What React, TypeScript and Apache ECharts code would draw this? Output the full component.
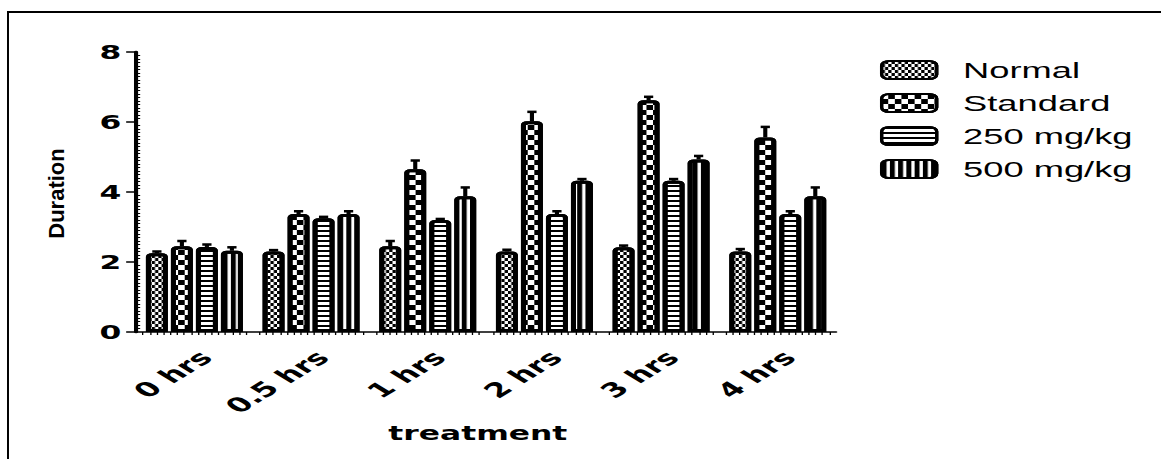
import React, { useEffect, useRef } from 'react';
import * as echarts from 'echarts';

// ---- data ----
const categories = ['0 hrs', '0.5 hrs', '1 hrs', '2 hrs', '3 hrs', '4 hrs'];
const seriesNames = ['Normal', 'Standard', '250 mg/kg', '500 mg/kg'];
const normal = [2.25, 2.3, 2.45, 2.3, 2.42, 2.3];
const normalErr = [0.05, 0.04, 0.15, 0.05, 0.05, 0.07];
const standard = [2.45, 3.37, 4.65, 6.02, 6.62, 5.56];
const standardErr = [0.15, 0.08, 0.25, 0.27, 0.1, 0.3];
const mg250 = [2.43, 3.25, 3.2, 3.37, 4.32, 3.37];
const mg250Err = [0.07, 0.04, 0.03, 0.08, 0.05, 0.08];
const mg500 = [2.32, 3.37, 3.88, 4.32, 4.93, 3.88];
const mg500Err = [0.1, 0.08, 0.25, 0.05, 0.1, 0.25];
const yTicks = [0, 2, 4, 6, 8];

// ---- layout ----
const INNER_W = 704;
const STRETCH = 1161 / INNER_W;
const BAR_W = 13.3;
const BAR_GAP = 0.14;
const GAP_PX = BAR_W * BAR_GAP;
const GROUP_W = 4 * BAR_W + 3 * GAP_PX;
const offsets = [0, 1, 2, 3].map((i) => -GROUP_W / 2 + BAR_W / 2 + i * (BAR_W + GAP_PX));

const decals: any[] = [
  { symbol: 'rect', symbolSize: 1, color: '#000', dashArrayX: [[2, 2], [0, 2, 2, 0]], dashArrayY: [3, 0], rotation: 0 },
  { symbol: 'rect', symbolSize: 1, color: '#000', dashArrayX: [[4, 4], [0, 4, 4, 0]], dashArrayY: [5, 0], rotation: 0 },
  { symbol: 'rect', symbolSize: 1, color: '#000', dashArrayX: [1, 0], dashArrayY: [2, 3], rotation: 0 },
  { symbol: 'rect', symbolSize: 1, color: '#000', dashArrayX: [3, 2], dashArrayY: [1, 0], rotation: 0 },
];

const values = [normal, standard, mg250, mg500];
const errors = [normalErr, standardErr, mg250Err, mg500Err];

const barSeries = seriesNames.map((name, i) => ({
  type: 'bar',
  name,
  xAxisIndex: 0,
  yAxisIndex: 0,
  data: values[i],
  barWidth: BAR_W,
  barGap: `${BAR_GAP * 100}%`,
  itemStyle: {
    color: '#fff',
    borderColor: '#000',
    borderWidth: 3,
    borderRadius: [2, 2, 0, 0],
    decal: decals[i],
  },
  emphasis: { disabled: true },
  z: 2,
}));

const errSeries = seriesNames.map((name, idx) => ({
  type: 'custom',
  name: 'err-' + name,
  xAxisIndex: 0,
  yAxisIndex: 0,
  silent: true,
  z: 1,
  data: values[idx].map((v, i) => [i, v, errors[idx][i]]),
  encode: { x: 0, y: 1 },
  renderItem: (params: any, api: any) => {
    const ci = api.value(0);
    const v = api.value(1);
    const e = api.value(2);
    const p0 = api.coord([ci, v]);
    const p1 = api.coord([ci, v + e]);
    const x = p0[0] + offsets[idx];
    return {
      type: 'group',
      children: [
        { type: 'line', shape: { x1: x, y1: p0[1], x2: x, y2: p1[1] }, style: { stroke: '#000', lineWidth: 2.5 } },
        { type: 'line', shape: { x1: x - 2.8, y1: p1[1], x2: x + 2.8, y2: p1[1] }, style: { stroke: '#000', lineWidth: 2.5 } },
      ],
    };
  },
}));

const option: any = {
  animation: false,
  backgroundColor: '#fff',
  textStyle: { fontFamily: 'Liberation Sans, Arial, sans-serif', color: '#000' },
  grid: { left: 82.5, right: 197, top: 52, bottom: 127, containLabel: false },
  legend: {
    data: seriesNames,
    orient: 'vertical',
    left: 533.6,
    top: 59,
    padding: 0,
    itemWidth: 33.4,
    itemHeight: 18,
    itemGap: 11,
    selectedMode: false,
    icon: 'roundRect',
    textStyle: { fontSize: 22, color: '#000', fontFamily: 'Liberation Sans, Arial, sans-serif', padding: [0, 0, 0, 11] },
  },
  xAxis: [
    {
      type: 'category',
      data: categories,
      position: 'bottom',
      axisLine: { onZero: false, lineStyle: { color: '#000', width: 1.5 } },
      axisTick: { alignWithLabel: true, length: 6, lineStyle: { color: '#000', width: 2.5 } },
      axisLabel: {
        rotate: 45,
        margin: 15,
        fontSize: 20,
        fontWeight: 'bold',
        fontFamily: 'DejaVu Sans, sans-serif',
        color: '#000',
        interval: 0,
        verticalAlign: 'top',
      },
      name: 'treatment',
      nameLocation: 'middle',
      nameGap: 90,
      nameTextStyle: {
        fontSize: 19,
        fontWeight: 'bold',
        fontFamily: 'DejaVu Sans, sans-serif',
        color: '#000',
        padding: [0, 10, 0, 0],
      },
    },
    {
      type: 'value',
      min: 0,
      max: 6,
      interval: 1,
      position: 'bottom',
      axisLine: { show: false, onZero: false },
      axisTick: { show: false },
      axisLabel: { show: false },
      splitLine: { show: false },
      minorTick: { show: true, splitNumber: 17, length: 3, lineStyle: { color: '#000', width: 0.8 } },
      minorSplitLine: { show: false },
    },
  ],
  yAxis: [
    {
      type: 'value',
      min: yTicks[0],
      max: yTicks[yTicks.length - 1],
      interval: 2,
      position: 'left',
      axisLine: { show: true, lineStyle: { color: '#000', width: 2.5 } },
      axisTick: { show: true, length: 6, lineStyle: { color: '#000', width: 1.5 } },
      axisLabel: { margin: 9, fontSize: 19, fontWeight: 'bold', fontFamily: 'DejaVu Sans, sans-serif', color: '#000' },
      splitLine: { show: false },
    },
    {
      type: 'value',
      min: yTicks[0],
      max: yTicks[yTicks.length - 1],
      interval: 2,
      position: 'left',
      axisLine: { show: false },
      axisTick: { show: false, inside: true },
      axisLabel: { show: false },
      splitLine: { show: false },
      minorTick: { show: true, splitNumber: 20, length: 2.5, lineStyle: { color: '#000', width: 1 } },
      minorSplitLine: { show: false },
    },
  ],
  graphic: [
    { type: 'line', silent: true, shape: { x1: 4.85, y1: 11, x2: 4.85, y2: 470 }, style: { stroke: '#000', lineWidth: 1.2 } },
    { type: 'line', silent: true, shape: { x1: 4.25, y1: 12, x2: 710, y2: 12 }, style: { stroke: '#000', lineWidth: 2 } },
    {
      type: 'text',
      silent: true,
      x: 34.3,
      y: 193.5,
      rotation: Math.PI / 2,
      scaleY: 0.62,
      style: {
        text: 'Duration',
        fontSize: 22,
        fontWeight: 'bold',
        fontFamily: 'Liberation Sans, Arial, sans-serif',
        fill: '#000',
        align: 'center',
        verticalAlign: 'middle',
      },
    },
  ],
  series: [...barSeries, ...errSeries],
};

export default function App() {
  const ref = useRef<HTMLDivElement>(null);
  useEffect(() => {
    if (!ref.current) return;
    const chart = echarts.init(ref.current, null, { renderer: 'svg' });
    chart.setOption(option);
    return () => chart.dispose();
  }, []);
  return (
    <div
      style={{
        position: 'absolute',
        left: 0,
        top: 0,
        width: 1161,
        height: 459,
        overflow: 'hidden',
        background: '#fff',
      }}
    >
      <div
        ref={ref}
        style={{
          width: INNER_W,
          height: 459,
          transform: `scaleX(${STRETCH})`,
          transformOrigin: '0 0',
        }}
      />
    </div>
  );
}
